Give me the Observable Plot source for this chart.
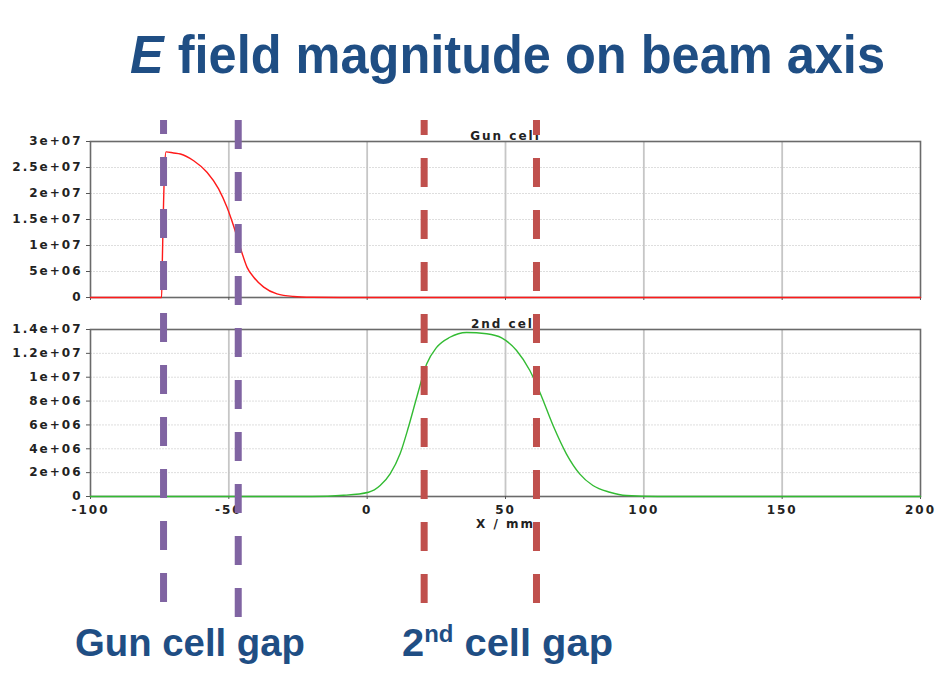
<!DOCTYPE html>
<html>
<head>
<meta charset="utf-8">
<script src="https://cdn.jsdelivr.net/npm/d3@7"></script>
<script src="https://cdn.jsdelivr.net/npm/@observablehq/plot@0.6"></script>
<style>
  html, body { margin: 0; padding: 0; background: #fff; }
  #page { position: relative; width: 950px; height: 692px; overflow: hidden; background: #fff; }
  .abs { position: absolute; }
  .slide-text { font-family: "Liberation Sans Narrow", "Liberation Sans", sans-serif; font-weight: bold; color: #1F4E84; white-space: nowrap; line-height: 1; transform-origin: 0 0; }
  .slide-text sup { font-size: 0.6em; vertical-align: 0; position: relative; top: -0.62em; }
  .panel svg text { font-family: "DejaVu Sans", Verdana, sans-serif !important; font-size: 12px !important; font-weight: 600; letter-spacing: 2px !important; }
</style>
</head>
<body>
<div id="page">
  <div id="title" class="abs slide-text" style="left:130px; top:28px; font-size:53px;"><i>E</i> field magnitude on beam axis</div>
  <div id="top" class="abs panel" style="left:0; top:110px;"></div>
  <div id="bottom" class="abs panel" style="left:0; top:305px;"></div>
  <div id="overlay" class="abs" style="left:0; top:120px; pointer-events:none;"></div>
  <div id="lab1" class="abs slide-text" style="left:75px; top:623px; font-size:39px;">Gun cell gap</div>
  <div id="lab2" class="abs slide-text" style="left:402px; top:623px; font-size:39px;">2<sup>nd</sup> cell gap</div>
</div>
<script>
// ---------- data ----------
const xDomain = [-100, 200];
const xTicks = [-100, -50, 0, 50, 100, 150, 200];
const xTickLabels = ["-100", "-50", "0", "50", "100", "150", "200"];
const xGridTicks = [-50, 0, 50, 100, 150];

const topTicks = [0, 5e6, 1e7, 1.5e7, 2e7, 2.5e7, 3e7];
const topTickLabels = ["0", "5e+06", "1e+07", "1.5e+07", "2e+07", "2.5e+07", "3e+07"];
const bottomTicks = [0, 2e6, 4e6, 6e6, 8e6, 1e7, 1.2e7, 1.4e7];
const bottomTickLabels = ["0", "2e+06", "4e+06", "6e+06", "8e+06", "1e+07", "1.2e+07", "1.4e+07"];

const gunTitle = "Gun cell";
const gunX = [-100, -74.3, -74.0, -73.6, -73.2, -72.7, -70, -67.5, -62.7, -57.9, -53.7, -50.7, -48.3, -45.8, -43.4, -41.0, -37.4, -32.6, -26.6, -20, -10, 200];
const gunE = [0, 0, 8e6, 1.8e7, 2.5e7, 2.8e7, 2.78e7, 2.76e7, 2.63e7, 2.41e7, 2.09e7, 1.74e7, 1.38e7, 9.5e6, 5.8e6, 3.9e6, 2.0e6, 7e5, 2e5, 5e4, 0, 0];

const cellTitle = "2nd cell";
const cellX = [-100, -20, -8.5, 0.5, 4.7, 8.3, 11.9, 14.9, 17.9, 21.5, 25.1, 29.9, 35.9, 43.2, 48.6, 54.0, 58.8, 62.4, 67.2, 72.0, 76.8, 81.6, 87.7, 93.7, 105, 200];
const cellE = [0, 0, 1e5, 3.6e5, 9.2e5, 1.9e6, 3.58e6, 5.8e6, 8.3e6, 1.11e7, 1.25e7, 1.335e7, 1.375e7, 1.364e7, 1.33e7, 1.224e7, 1.056e7, 8.74e6, 5.95e6, 3.58e6, 1.9e6, 9.2e5, 3.6e5, 8e4, 0, 0];

const xLabel = "X / mm";

const gunGapX = [-73.6, -46.6];
const cellGapX = [20.6, 61.2];

// ---------- styles ----------
const W = 950, ML = 90, MR = 30;
const FS = 12;
const ink = "#222";
const textStyle = { fontFamily: "DejaVu Sans, Verdana, sans-serif", fontSize: "12px", color: ink, background: "transparent" };
const gridYStyle = { stroke: "#dedede", strokeOpacity: 1, strokeDasharray: "2,1" };
const gridXStyle = { stroke: "#c6c6c6", strokeOpacity: 1, strokeWidth: 1.8 };
const purple = "#8064A2", red = "#C0504D";

function panel({ticks, labels, xs, ys, color, title, height, marginTop, marginBottom, showX}) {
  const data = xs.map((x, i) => ({x, y: ys[i]}));
  return Plot.plot({
    width: W, height, marginLeft: ML, marginRight: MR, marginTop, marginBottom,
    style: textStyle,
    x: {domain: xDomain},
    y: {domain: [ticks[0], ticks[ticks.length - 1]]},
    marks: [
      Plot.gridY(ticks.slice(1, -1), gridYStyle),
      Plot.gridX(xGridTicks, gridXStyle),
      Plot.frame({stroke: "#6a6a6a", strokeWidth: 1.6}),
      Plot.axisY(ticks, {tickSize: 4, tickPadding: 4, stroke: "#555", fill: ink, fontSize: FS, label: null,
        tickFormat: d => labels[ticks.indexOf(d)]}),
      showX
        ? Plot.axisX(xTicks, {tickSize: 3, tickPadding: 6, stroke: "#555", fill: ink, fontSize: FS, label: null,
            tickFormat: d => xTickLabels[xTicks.indexOf(d)]})
        : Plot.axisX(xTicks, {tickSize: 3, stroke: "#555", text: null, label: null}),
      Plot.line(data, {x: "x", y: "y", stroke: color, strokeWidth: 1.4, curve: "monotone-x"}),
      Plot.text([title], {frameAnchor: "top", dy: -10, fill: ink, fontSize: FS}),
      showX ? Plot.text([xLabel], {frameAnchor: "bottom", dy: 31, fill: ink, fontSize: FS}) : null
    ]
  });
}

document.getElementById("top").append(panel({
  ticks: topTicks, labels: topTickLabels, xs: gunX, ys: gunE, color: "#ff1a1a",
  title: gunTitle, height: 198, marginTop: 31, marginBottom: 11, showX: false
}));
document.getElementById("bottom").append(panel({
  ticks: bottomTicks, labels: bottomTickLabels, xs: cellX, ys: cellE, color: "#33bb33",
  title: cellTitle, height: 234, marginTop: 24, marginBottom: 43, showX: true
}));

const dash = {strokeWidth: 7, strokeDasharray: "29,23"};
document.getElementById("overlay").append(Plot.plot({
  width: W, height: 500, marginLeft: ML, marginRight: MR, marginTop: 0, marginBottom: 0,
  style: {background: "transparent"},
  x: {domain: xDomain, axis: null},
  marks: [
    Plot.ruleX([gunGapX[0]], {...dash, stroke: purple, strokeDashoffset: 15, insetBottom: 16}),
    Plot.ruleX([gunGapX[1]], {...dash, stroke: purple, strokeDashoffset: 0, insetBottom: 0}),
    Plot.ruleX(cellGapX, {...dash, stroke: red, strokeDashoffset: 14, insetBottom: 16})
  ]
}));

// stretch slide texts horizontally to the reference widths
function fit(id, target) {
  const el = document.getElementById(id);
  const w = el.getBoundingClientRect().width;
  el.style.transform = `scaleX(${target / w})`;
}
fit("title", 755);
fit("lab1", 230);
fit("lab2", 211);
</script>
</body>
</html>
